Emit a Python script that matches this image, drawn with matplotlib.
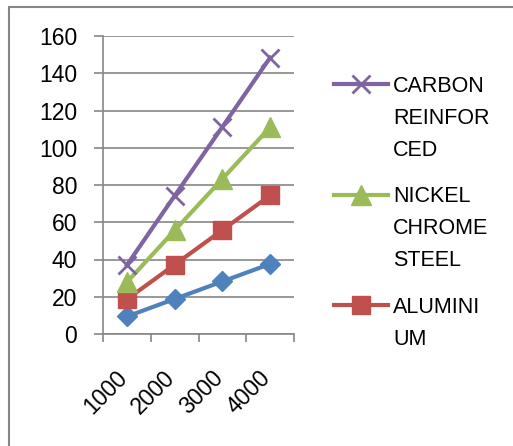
import matplotlib
matplotlib.use("Agg")
import matplotlib.pyplot as plt
from matplotlib.patches import Rectangle
from matplotlib.transforms import ScaledTranslation
import numpy as np

plt.rcParams["font.family"] = ["Liberation Sans", "DejaVu Sans"]

# data
loads = ["1000", "2000", "3000", "4000"]
carbon = [37.0, 74.2, 111.2, 148.4]
nickel = [27.8, 55.6, 83.3, 111.0]
aluminium = [18.6, 37.2, 55.8, 74.4]
blue_series = [9.4, 18.8, 28.2, 37.6]   # legend entry is cut off in the original
legend_lines = [["CARBON", "REINFOR", "CED"],
                ["NICKEL", "CHROME", "STEEL"],
                ["ALUMINI", "UM"]]
yticks = [0, 20, 40, 60, 80, 100, 120, 140, 160]

GRID = "#868686"
BLUE, RED, GREEN, PURPLE = "#4F81BD", "#C0504D", "#9BBB59", "#8064A2"

fig = plt.figure(figsize=(5.13, 4.46), dpi=100)
fig.patch.set_facecolor("white")
ax = fig.add_axes([103/513, 1-334/446, (294-103)/513, (334-36)/446])

x = np.arange(len(loads))
ax.plot(x, blue_series, color=BLUE, lw=3, marker="D", ms=10)
h_al, = ax.plot(x, aluminium, color=RED, lw=3, marker="s", ms=13)
h_ni, = ax.plot(x, nickel, color=GREEN, lw=3, marker="^", ms=14)
h_ca, = ax.plot(x, carbon, color=PURPLE, lw=3, marker="x", ms=13, mew=2)

ax.set_xlim(-0.5, len(loads) - 0.5)
ax.set_ylim(0, 160)
ax.set_yticks(yticks)
ax.yaxis.grid(True, color=GRID, lw=1.2)
ax.set_axisbelow(True)
for s in ["top", "right"]:
    ax.spines[s].set_visible(False)
for s in ["left", "bottom"]:
    ax.spines[s].set_color(GRID)
    ax.spines[s].set_linewidth(1.2)

ax.tick_params(axis="y", direction="out", length=6.5, width=1.2, color=GRID,
               pad=12, labelsize=16.5)
# category boundaries carry the tick marks, labels sit in between
ax.set_xticks(np.arange(-0.5, len(loads)), labels=[])
ax.set_xticks(x, labels=loads, minor=True)
ax.tick_params(axis="x", which="major", direction="out", length=6, width=1.2,
               color=GRID)
ax.tick_params(axis="x", which="minor", length=0, pad=23, labelsize=16.5)
for lab in ax.get_xticklabels(minor=True):
    lab.set_rotation(45)
    lab.set_ha("right")
    lab.set_va("top")
    lab.set_transform(lab.get_transform() +
                      ScaledTranslation(0.05, 0, fig.dpi_scale_trans))

leg = ax.legend([h_ca, h_ni, h_al], [l[0] for l in legend_lines],
                loc="upper left", bbox_to_anchor=(334/513, 1-76/446),
                bbox_transform=fig.transFigure, frameon=False, fontsize=15.5,
                handlelength=2.5, handletextpad=0.25, labelspacing=4.15,
                borderpad=0, borderaxespad=0)
for t, lines in zip(leg.get_texts(), legend_lines):
    if len(lines) > 1:
        ax.annotate("\n".join(lines[1:]), xy=(0, 0), xycoords=t,
                    xytext=(0, -8), textcoords="offset points",
                    ha="left", va="top", fontsize=15.5, linespacing=1.67,
                    annotation_clip=False, zorder=6)

# outer chart frame (right and bottom edges fall outside the picture)
fig.add_artist(Rectangle((8.5/513, -0.2), 1.2, 1.2 - 7/446,
                         transform=fig.transFigure, fill=False,
                         edgecolor=GRID, lw=1.5))

fig.canvas.draw()
fig.savefig("out.png", dpi=100)
